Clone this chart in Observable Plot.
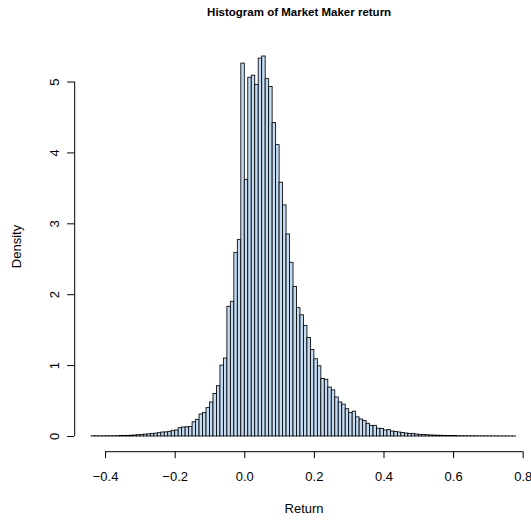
<!DOCTYPE html>
<html><head><meta charset="utf-8">
<script src="https://cdn.jsdelivr.net/npm/d3@7"></script>
<script src="https://cdn.jsdelivr.net/npm/@observablehq/plot@0.6"></script>
<style>html,body{margin:0;padding:0;background:#fff;} svg{display:block;}</style>
</head><body><div id="chart"></div>
<script>
// Histogram bins: left edges (bin width 0.01) and density values
const binLefts = [
  -0.44,-0.43,-0.42,-0.41,-0.40,-0.39,-0.38,-0.37,-0.36,-0.35,
  -0.34,-0.33,-0.32,-0.31,-0.30,-0.29,-0.28,-0.27,-0.26,-0.25,
  -0.24,-0.23,-0.22,-0.21,-0.20,-0.19,-0.18,-0.17,-0.16,-0.15,
  -0.14,-0.13,-0.12,-0.11,-0.10,-0.09,-0.08,-0.07,-0.06,-0.05,
  -0.04,-0.03,-0.02,-0.01,0.00,0.01,0.02,0.03,0.04,0.05,
  0.06,0.07,0.08,0.09,0.10,0.11,0.12,0.13,0.14,0.15,
  0.16,0.17,0.18,0.19,0.20,0.21,0.22,0.23,0.24,0.25,
  0.26,0.27,0.28,0.29,0.30,0.31,0.32,0.33,0.34,0.35,
  0.36,0.37,0.38,0.39,0.40,0.41,0.42,0.43,0.44,0.45,
  0.46,0.47,0.48,0.49,0.50,0.51,0.52,0.53,0.54,0.55,
  0.56,0.57,0.58,0.59,0.60,0.61,0.62,0.63,0.64,0.65,
  0.66,0.67,0.68,0.69,0.70,0.71,0.72,0.73,0.74,0.75,0.76,0.77
];
const densities = [
  0.003,0.003,0.002,0.003,0.003,0.004,0.004,0.005,0.006,0.008,
  0.009,0.011,0.014,0.018,0.020,0.027,0.030,0.037,0.040,0.047,
  0.056,0.058,0.066,0.080,0.085,0.117,0.127,0.130,0.135,0.200,
  0.235,0.310,0.330,0.400,0.480,0.600,0.710,1.000,1.100,1.830,
  1.900,2.590,2.770,5.260,3.620,5.060,5.090,4.960,5.330,5.360,
  5.040,4.930,4.420,4.110,3.580,3.260,2.850,2.450,2.110,1.810,
  1.710,1.560,1.390,1.220,1.090,0.990,0.810,0.800,0.690,0.650,
  0.550,0.480,0.450,0.385,0.330,0.350,0.270,0.240,0.220,0.180,
  0.150,0.150,0.110,0.105,0.085,0.090,0.070,0.065,0.056,0.050,
  0.042,0.037,0.037,0.028,0.023,0.020,0.018,0.015,0.013,0.011,
  0.010,0.008,0.007,0.006,0.006,0.005,0.004,0.004,0.003,0.003,
  0.003,0.002,0.002,0.002,0.002,0.001,0.002,0.001,0.001,0.001,0.001,0.001
];
const binWidth = 0.01;
const xTicks = [-0.4, -0.2, 0.0, 0.2, 0.4, 0.6, 0.8];
const yTicks = [0, 1, 2, 3, 4, 5];
const titleText = "Histogram of Market Maker return";
const xLabel = "Return";
const yLabel = "Density";

const bins = binLefts.map((x0, i) => ({x0, x1: x0 + binWidth, density: densities[i]}));
const xDomain = [-0.4888, 0.8239];
const yDomain = [-0.2144, 5.5744];
const fmt = d3.format(".1f");

const chart = Plot.plot({
  width: 531,
  height: 520,
  marginLeft: 74.2,
  marginRight: 0,
  marginTop: 40.8,
  marginBottom: 68.8,
  style: {fontFamily: "'Liberation Sans', Arial, Helvetica, sans-serif", fontSize: "13px", color: "#000", background: "#fff"},
  x: {domain: xDomain},
  y: {domain: yDomain},
  marks: [
    Plot.rectY(bins, {x1: "x0", x2: "x1", y1: 0, y2: "density", fill: "#c4dbf4", stroke: "#000", strokeWidth: 0.85}),
    // x axis
    Plot.ruleY([yDomain[0]], {x1: xTicks[0], x2: xTicks[xTicks.length - 1], stroke: "#000"}),
    Plot.axisX({ticks: xTicks, tickSize: 7, tickPadding: 13, tickFormat: fmt, fontSize: 13, label: null}),
    // y axis
    Plot.ruleX([xDomain[0]], {y1: yTicks[0], y2: yTicks[yTicks.length - 1], stroke: "#000"}),
    Plot.axisY({ticks: yTicks, tickSize: 7, tickFormat: () => "", label: null}),
    Plot.text(yTicks, {x: xDomain[0], y: d => d, text: d => String(d), rotate: -90, dx: -20, lineAnchor: "middle", textAnchor: "middle", fontSize: 13}),
    // titles
    Plot.text([titleText], {frameAnchor: "top", dx: -4, dy: -28.8, lineAnchor: "middle", textAnchor: "middle", fontWeight: "bold", fontSize: 11.5}),
    Plot.text([xLabel], {frameAnchor: "bottom", dx: 1, dy: 57, lineAnchor: "middle", textAnchor: "middle", fontSize: 13}),
    Plot.text([yLabel], {frameAnchor: "left", dx: -58, rotate: -90, lineAnchor: "middle", textAnchor: "middle", fontSize: 13})
  ]
});
document.getElementById("chart").appendChild(chart);
</script>
</body></html>
